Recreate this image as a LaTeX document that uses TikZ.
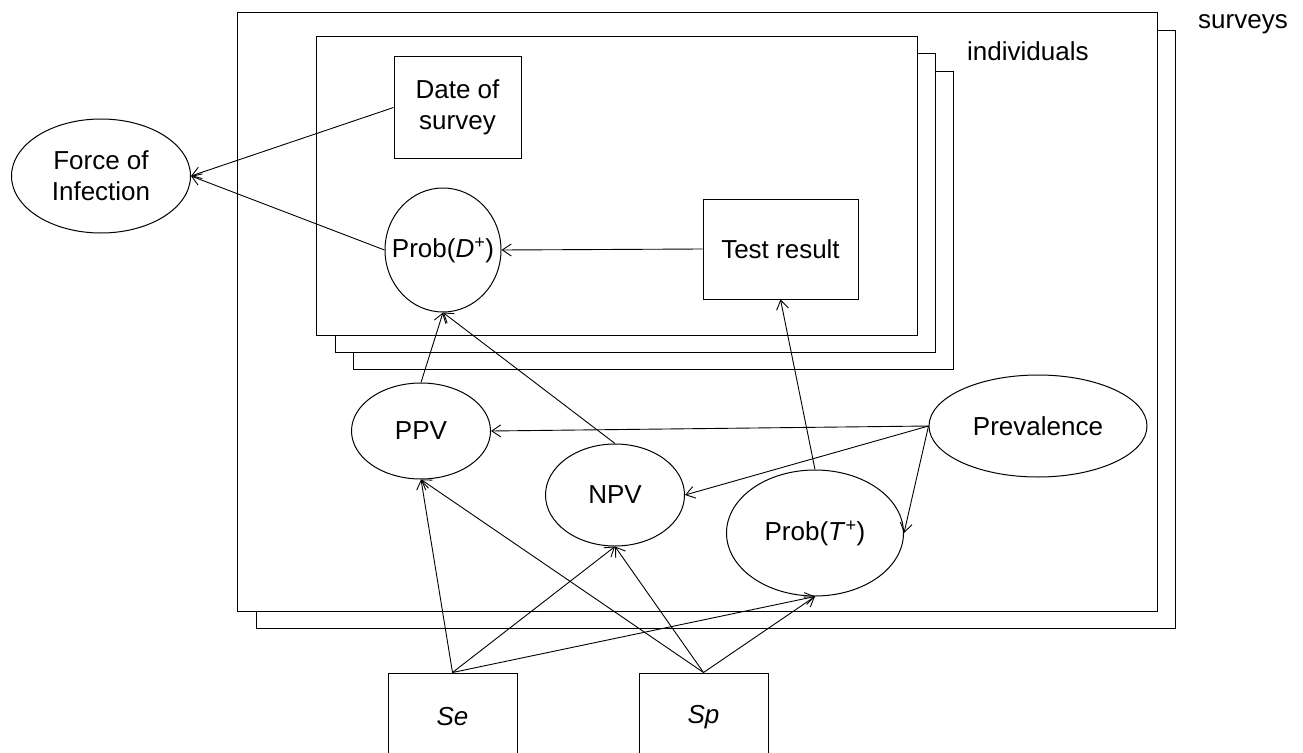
\documentclass[tikz,border=0pt]{standalone}
\usepackage{fontspec}
\setmainfont{Liberation Sans}
\usetikzlibrary{shapes.geometric,arrows.meta}

\tikzset{
  plate/.style={draw, fill=white, line width=1pt},
  varnode/.style={draw, fill=white, ellipse, line width=1pt, inner xsep=-15pt, inner ysep=0pt, align=center},
  datanode/.style={draw, fill=white, rectangle, line width=1pt, inner sep=0pt, align=center},
  link/.style={line width=0.9pt, -{Straight Barb[length=9pt,width=12pt,line width=0.9pt]}},
  platelabel/.style={anchor=base west, inner sep=0pt}
}

\begin{document}
\begin{tikzpicture}[x=1pt, y=-1pt, font=\fontsize{26}{31}\selectfont]
\useasboundingbox (0,0) rectangle (1303,752);

% survey plate (stacked)
\draw[plate] (256,31) rectangle (1175,628);
\draw[plate] (237,13) rectangle (1157,611);
\node[platelabel] (surveys) at (1198,29) {surveys};

% individual plate (stacked)
\draw[plate] (353,71) rectangle (953,369);
\draw[plate] (335,54) rectangle (935,352);
\draw[plate] (316,37) rectangle (917,335);
\node[platelabel] (individuals) at (967,60) {individuals};

% nodes
\node[varnode, minimum width=179pt, minimum height=114pt] (foi) at (101,176) {Force of\\Infection};
\node[datanode, minimum width=127pt, minimum height=101pt] (dos) at (457.5,107.5) {Date of\\survey};
\node[varnode, minimum width=116pt, minimum height=124pt] (pd) at (443,250) {Prob(\textit{D}\textsuperscript{+})};
\node[datanode, minimum width=155pt, minimum height=100pt] (tr) at (780.5,249) {Test result};
\node[varnode, minimum width=139pt, minimum height=96pt] (ppv) at (421,431) {PPV};
\node[varnode, minimum width=139pt, minimum height=102pt] (npv) at (615,495) {NPV};
\node[varnode, minimum width=218pt, minimum height=102pt] (prev) at (1038,426) {Prevalence};
\node[varnode, minimum width=177pt, minimum height=126pt] (pt) at (815,533) {Prob(\textit{T}\textsuperscript{+})};
\node[datanode, minimum width=129pt, minimum height=88pt] (se) at (452.5,717) {\textit{Se}};
\node[datanode, minimum width=129pt, minimum height=88pt] (sp) at (703.5,717) {\textit{Sp}};

% dependencies
\draw[link] (dos.west) -- (foi.east);
\draw[link] (pd.west) -- (foi.east);
\draw[link] (tr.west) -- (pd.east);
\draw[link] (ppv.north) -- (pd.south);
\draw[link] (npv.north) -- (pd.south);
\draw[link] (pt.north) -- (tr.south);
\draw[link] (prev.west) -- (ppv.east);
\draw[link] (prev.west) -- (npv.east);
\draw[link] (prev.west) -- (pt.east);
\draw[link] (se.north) -- (ppv.south);
\draw[link] (se.north) -- (npv.south);
\draw[link] (se.north) -- (pt.south);
\draw[link] (sp.north) -- (ppv.south);
\draw[link] (sp.north) -- (npv.south);
\draw[link] (sp.north) -- (pt.south);
\end{tikzpicture}
\end{document}
